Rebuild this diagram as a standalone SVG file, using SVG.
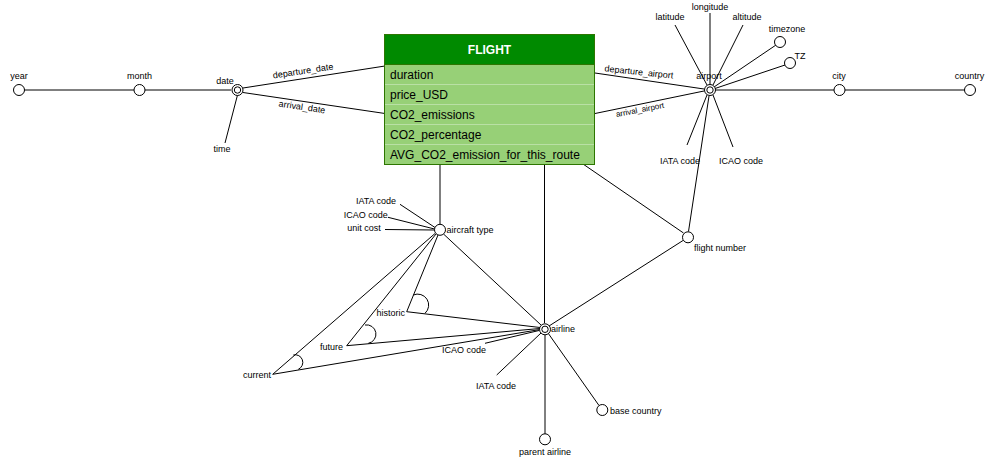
<svg xmlns="http://www.w3.org/2000/svg" width="985" height="462" viewBox="0 0 985 462">
<style>
text{font-family:"Liberation Sans",Arial,sans-serif;font-size:9px;fill:#000;stroke:none}
.c{text-anchor:middle}
.e{text-anchor:end}
.ln{stroke:#000;stroke-width:1;fill:none}
.nd{fill:#fff;stroke:#000;stroke-width:1}
.fld{font-size:12px}
</style>
<rect width="985" height="462" fill="#fff"/>
<g id="connectors">
<g class="ln">
<line x1="24" y1="90" x2="134" y2="90"/>
<line x1="144" y1="90" x2="231" y2="90"/>
<line x1="237.5" y1="95" x2="225" y2="143"/>
<line x1="243" y1="88" x2="385" y2="66"/>
<line x1="243" y1="92.5" x2="385" y2="113.5"/>
<line x1="595" y1="73" x2="704" y2="89"/>
<line x1="595" y1="113.5" x2="704" y2="91"/>
<line x1="675" y1="25" x2="707" y2="85"/>
<line x1="710" y1="13" x2="710" y2="84"/>
<line x1="743" y1="25" x2="713" y2="85"/>
<line x1="776" y1="45" x2="714" y2="87"/>
<line x1="785" y1="65" x2="715" y2="88.5"/>
<line x1="716" y1="90" x2="834" y2="90"/>
<line x1="845" y1="90" x2="965" y2="90"/>
<line x1="707" y1="95" x2="687" y2="145"/>
<line x1="713" y1="95" x2="733" y2="147"/>
<line x1="709" y1="96" x2="688.5" y2="231.5"/>
<line x1="583" y1="164" x2="683.5" y2="233"/>
<line x1="683" y1="240.5" x2="549" y2="326"/>
<line x1="440" y1="164" x2="440" y2="224.5"/>
<line x1="400" y1="204.3" x2="435" y2="227.5"/>
<line x1="388" y1="217.3" x2="434.5" y2="229"/>
<line x1="385" y1="229.5" x2="434.5" y2="230"/>
<line x1="443.5" y1="234" x2="541" y2="325"/>
<line x1="438" y1="235" x2="406.7" y2="311.7"/>
<line x1="436" y1="234" x2="346.7" y2="345.7"/>
<line x1="435" y1="233.5" x2="272.7" y2="374.3"/>
<line x1="406.7" y1="311.7" x2="540" y2="327.5"/>
<line x1="346.7" y1="345.7" x2="540" y2="328.5"/>
<line x1="272.7" y1="374.3" x2="540" y2="329.5"/>
<line x1="485" y1="343.3" x2="539" y2="330.5"/>
<line x1="496.7" y1="375" x2="541" y2="333"/>
<line x1="544.5" y1="164" x2="544.5" y2="323"/>
<line x1="545" y1="335" x2="545" y2="434"/>
<line x1="548" y1="333" x2="599" y2="405.5"/>
<path d="M413.3,295 A11,11 0 0 1 425,313.3"/>
<path d="M365,325 A9.2,9.2 0 0 1 368.3,343.3"/>
<path d="M293.3,355 A7.6,7.6 0 0 1 298.3,369.3"/>
</g>
<text class="c" x="303" y="74" transform="rotate(-8.5 303 71)">departure_date</text>
<text class="c" x="302" y="110" transform="rotate(8.5 302 107)">arrival_date</text>
<text class="c" x="639" y="75" transform="rotate(6 639 72)">departure_airport</text>
<text class="c" x="640" y="112.5" style="font-size:8px" transform="rotate(-11 640 110)">arrival_airport</text>
</g>
<g id="flight">
<rect x="384.5" y="34.5" width="210" height="130" fill="#97d077" stroke="#2d7600"/>
<rect x="384.5" y="34.5" width="210" height="30" fill="#008a00" stroke="#2d7600"/>
<g stroke="#b9e0a5" stroke-width="1">
<line x1="385" y1="84.5" x2="594" y2="84.5"/>
<line x1="385" y1="104.5" x2="594" y2="104.5"/>
<line x1="385" y1="124.5" x2="594" y2="124.5"/>
<line x1="385" y1="144.5" x2="594" y2="144.5"/>
</g>
<text class="c" x="489.5" y="53.5" style="font-size:12px;font-weight:bold;fill:#fff">FLIGHT</text>
<text class="fld" x="390" y="78.5">duration</text>
<text class="fld" x="390" y="98.5">price_USD</text>
<text class="fld" x="390" y="118.5">CO2_emissions</text>
<text class="fld" x="390" y="138.5">CO2_percentage</text>
<text class="fld" x="390" y="158.5">AVG_CO2_emission_for_this_route</text>
</g>
<g id="year"><circle class="nd" cx="19" cy="90" r="5.5"/><text class="c" x="19" y="79">year</text></g>
<g id="month"><circle class="nd" cx="139.5" cy="90" r="5.5"/><text class="c" x="139.5" y="79">month</text></g>
<g id="date"><circle class="nd" cx="237.5" cy="90" r="5.5"/><circle class="nd" cx="237.5" cy="90" r="3.2"/><text class="c" x="225" y="83.5">date</text></g>
<g id="time"><text class="c" x="222" y="152">time</text></g>
<g id="airport"><circle class="nd" cx="710" cy="90" r="5.5"/><circle class="nd" cx="710" cy="90" r="3.2"/><text class="c" x="709" y="78.5">airport</text></g>
<g id="latitude"><text class="c" x="670" y="20">latitude</text></g>
<g id="longitude"><text class="c" x="710" y="10">longitude</text></g>
<g id="altitude"><text class="c" x="747" y="20">altitude</text></g>
<g id="timezone"><circle class="nd" cx="780" cy="42" r="5.5"/><text class="c" x="787" y="32">timezone</text></g>
<g id="tz"><circle class="nd" cx="790" cy="63" r="5.5"/><text class="c" x="800" y="59">TZ</text></g>
<g id="city"><circle class="nd" cx="839.5" cy="90" r="5.5"/><text class="c" x="839" y="79">city</text></g>
<g id="country"><circle class="nd" cx="970" cy="90" r="5.5"/><text class="c" x="969.5" y="79">country</text></g>
<g id="airport-iata"><text class="c" x="680" y="164">IATA code</text></g>
<g id="airport-icao"><text class="c" x="741" y="164">ICAO code</text></g>
<g id="flight-number"><circle class="nd" cx="688" cy="237.3" r="5.5"/><text x="694" y="251">flight number</text></g>
<g id="aircraft-type"><circle class="nd" cx="440" cy="229.8" r="5.5"/><text x="446.5" y="232.5">aircraft type</text></g>
<g id="aircraft-iata"><text class="c" x="376" y="203.5">IATA code</text></g>
<g id="aircraft-icao"><text class="c" x="365.7" y="217.5">ICAO code</text></g>
<g id="unit-cost"><text class="c" x="364" y="231">unit cost</text></g>
<g id="historic"><text class="e" x="405" y="315.5">historic</text></g>
<g id="future"><text class="e" x="343" y="349.5">future</text></g>
<g id="current"><text class="e" x="271" y="378">current</text></g>
<g id="airline"><circle class="nd" cx="545" cy="329.3" r="5.5"/><circle class="nd" cx="545" cy="329.3" r="3.2"/><text x="551" y="332">airline</text></g>
<g id="airline-icao"><text class="c" x="464" y="353">ICAO code</text></g>
<g id="airline-iata"><text class="c" x="496" y="388.5">IATA code</text></g>
<g id="base-country"><circle class="nd" cx="602.3" cy="410" r="5.5"/><text x="610" y="413.5">base country</text></g>
<g id="parent-airline"><circle class="nd" cx="545" cy="439.3" r="5.5"/><text class="c" x="545" y="454.5">parent airline</text></g>
</svg>
